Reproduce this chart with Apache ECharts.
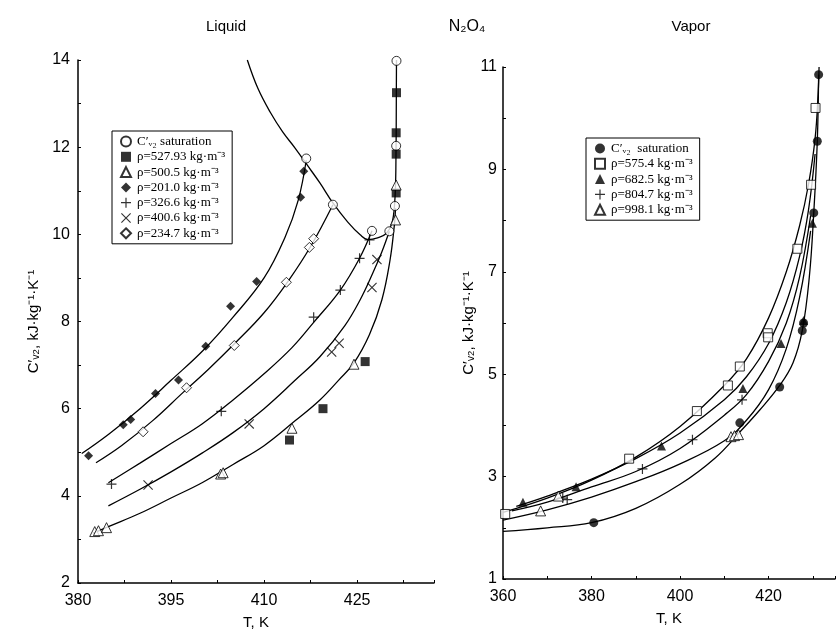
<!DOCTYPE html>
<html>
<head>
<meta charset="utf-8">
<script src="https://cdn.jsdelivr.net/npm/echarts@6/dist/echarts.min.js"></script>
<style>
  html, body { margin: 0; padding: 0; background: #fff; }
  #chart { width: 838px; height: 639px; }
</style>
</head>
<body>
<div id="chart"></div>
<script>
// ---- Liquid side: measured points [T (K), C'v2 (kJ/kg/K)] ----
const liqSatPts  = [[416.8, 11.74], [421.1, 10.68], [427.4, 10.08], [430.2, 10.07], [431.1, 10.65], [431.3, 12.03], [431.35, 13.98]];
const liq52793   = [[414.1, 5.28], [419.5, 6.0], [426.3, 7.08], [431.3, 10.95], [431.3, 11.84], [431.3, 12.33], [431.35, 13.25]];
const liq5005    = [[382.7, 3.18], [383.3, 3.2], [384.6, 3.27], [403.0, 4.5], [403.4, 4.53], [414.5, 5.55], [424.5, 7.02], [431.2, 10.33], [431.3, 11.13]];
const liq2010    = [[381.7, 4.92], [387.3, 5.63], [388.5, 5.75], [392.5, 6.35], [396.2, 6.66], [400.6, 7.43], [404.6, 8.35], [408.8, 8.92], [415.9, 10.85], [416.4, 11.45]];
const liq3266    = [[385.4, 4.27], [403.1, 5.94], [418.0, 8.1], [422.3, 8.72], [425.4, 9.45], [427.0, 9.87]];
const liq4006    = [[391.3, 4.25], [407.6, 5.65], [420.9, 7.3], [422.1, 7.5], [427.4, 8.78], [428.2, 9.42]];
const liq2347    = [[390.5, 5.47], [397.5, 6.48], [405.2, 7.45], [413.6, 8.9], [417.3, 9.7], [418.0, 9.9]];

// ---- Liquid side: smoothed fit curves ----
const liqSatCurve  = [[407.3, 14.0], [409, 13.35], [411, 12.8], [413, 12.35], [415, 11.98], [416.8, 11.62], [419, 11.18], [421.1, 10.72], [423.5, 10.28], [425.5, 9.99], [426.8, 9.88], [428.3, 9.92], [429.7, 10.02], [430.6, 10.25], [431.05, 10.7], [431.25, 11.5], [431.35, 14.0]];
const liq2010Curve = [[380.6, 4.97], [385, 5.42], [390, 6.0], [395, 6.65], [400.2, 7.34], [405, 8.1], [410, 9.0], [413.4, 9.94], [415.5, 10.78], [416.8, 11.7]];
const liq2347Curve = [[382.9, 4.76], [387, 5.15], [392, 5.72], [397, 6.38], [401, 6.9], [405.3, 7.5], [410, 8.2], [414, 8.95], [417.5, 9.72], [421.1, 10.68]];
const liq3266Curve = [[384.9, 4.3], [390, 4.75], [395, 5.2], [400, 5.65], [405, 6.2], [410, 6.8], [414.5, 7.4], [418, 7.98], [422.3, 8.72], [425.4, 9.45], [427.4, 10.08]];
const liq4006Curve = [[384.9, 3.77], [390, 4.15], [395, 4.55], [400, 4.98], [405, 5.45], [410, 6.0], [415, 6.65], [419, 7.19], [423, 7.9], [425.5, 8.5], [427.5, 9.1], [429, 9.6], [430.2, 10.07]];
const liq5005Curve = [[382.4, 3.14], [385, 3.3], [390, 3.6], [395, 3.95], [400, 4.3], [405, 4.72], [410, 5.15], [415, 5.72], [419, 6.2], [422, 6.65], [424.5, 7.05], [427, 7.7], [429, 8.5], [430.3, 9.4], [431.0, 10.2], [431.2, 10.6]];

// ---- Vapor side: measured points ----
const vapSatPts = [[380.5, 2.1], [413.5, 4.05], [422.5, 4.75], [427.6, 5.85], [427.9, 6.0], [430.2, 8.15], [431.0, 9.55], [431.3, 10.85]];
const vap5754   = [[360.5, 2.27], [388.5, 3.35], [403.8, 4.28], [410.8, 4.78], [413.5, 5.15], [419.8, 5.8], [419.9, 5.72], [426.5, 7.45], [429.6, 8.7], [430.6, 10.2]];
const vap6825   = [[364.5, 2.5], [376.5, 2.8], [395.8, 3.6], [414.2, 4.72], [422.8, 5.6], [427.9, 6.05], [429.9, 7.95]];
const vap8047   = [[373.5, 2.58], [374.5, 2.55], [391.5, 3.15], [402.8, 3.72], [414.0, 4.5]];
const vap9981   = [[368.5, 2.33], [372.5, 2.62], [411.5, 3.78], [412.3, 3.8], [413.2, 3.82]];

// ---- Vapor side: smoothed fit curves ----
const vapSatCurve  = [[360, 1.93], [370, 2.0], [380, 2.1], [390, 2.38], [400, 2.85], [408, 3.37], [413.5, 3.87], [418, 4.3], [422.5, 4.78], [425.5, 5.22], [427.6, 5.85], [429.2, 6.9], [430.2, 8.15], [431, 9.55], [431.3, 10.85]];
const vap5754Curve = [[360, 2.3], [370, 2.58], [380, 2.93], [390, 3.38], [400, 3.98], [410, 4.78], [415, 5.3], [420, 6.1], [424, 7.0], [427, 7.9], [429, 8.7], [430.5, 9.6], [431.2, 10.5], [431.4, 11.0]];
const vap6825Curve = [[363, 2.42], [370, 2.62], [380, 2.95], [390, 3.35], [400, 3.85], [410, 4.5], [415, 4.95], [420, 5.6], [424, 6.4], [427, 7.3], [429, 8.2], [430.5, 9.3]];
const vap8047Curve = [[362, 2.33], [370, 2.5], [380, 2.8], [390, 3.1], [400, 3.55], [410, 4.2], [415, 4.6], [420, 5.25], [424, 6.0], [427, 6.9], [429.5, 8.1]];
const vap9981Curve = [[360, 2.15], [370, 2.35], [380, 2.6], [390, 2.9], [400, 3.25], [410, 3.7], [415, 4.1], [420, 4.7], [424, 5.5], [427, 6.5], [429.5, 7.8]];

// legend names
const liqNames = ['C′ᵥ₂ saturation', 'ρ=527.93 kg·m⁻³', 'ρ=500.5 kg·m⁻³', 'ρ=201.0 kg·m⁻³', 'ρ=326.6 kg·m⁻³', 'ρ=400.6 kg·m⁻³', 'ρ=234.7 kg·m⁻³'];
const vapNames = ['C′ᵥ₂  saturation', 'ρ=575.4 kg·m⁻³', 'ρ=682.5 kg·m⁻³', 'ρ=804.7 kg·m⁻³', 'ρ=998.1 kg·m⁻³'];

const PLUS = 'path://M4.4,0H5.6V4.4H10V5.6H5.6V10H4.4V5.6H0V4.4H4.4Z';
const CROSS = 'path://M0,0.8L0.8,0L5,4.2L9.2,0L10,0.8L5.8,5L10,9.2L9.2,10L5,5.8L0.8,10L0,9.2L4.2,5Z';
const open = { color: '#fff', borderColor: '#000', borderWidth: 1 };
const solid = { color: '#000', borderColor: '#000', borderWidth: 0 };

function pts(name, data, idx, symbol, size, style) {
  return { name, type: 'scatter', xAxisIndex: idx, yAxisIndex: idx, data, symbol, symbolSize: size, itemStyle: style, z: 5 };
}
function curve(data, idx) {
  return { type: 'line', xAxisIndex: idx, yAxisIndex: idx, data, smooth: 0.4, showSymbol: false, symbol: 'none',
           lineStyle: { color: '#000', width: 1.3 }, silent: true, z: 3 };
}

const sansFont = 'Liberation Sans';
const axisCommon = {
  axisLine: { show: true, lineStyle: { color: '#000', width: 1.5 } },
  axisTick: { show: true, inside: true, length: 3, lineStyle: { color: '#000' } },
  splitLine: { show: false },
  axisLabel: { color: '#000', fontSize: 16, fontFamily: sansFont },
  nameTextStyle: { color: '#000', fontSize: 15, fontFamily: sansFont }
};
const legendCommon = {
  orient: 'vertical', backgroundColor: '#fff', borderColor: '#000', borderWidth: 1,
  itemWidth: 10, itemHeight: 10, itemGap: 2.3, padding: [4, 7, 4, 8],
  textStyle: { fontFamily: 'Liberation Serif', fontSize: 13, color: '#000', padding: [0, 0, 0, 1] }
};
const titleStyle = { fontFamily: sansFont, fontSize: 15, fontWeight: 'normal', color: '#000' };

const option = {
  animation: false,
  backgroundColor: '#fff',
  title: [
    { text: 'Liquid', left: 221, top: 14, textAlign: 'center', textStyle: titleStyle },
    { text: 'N₂O₄', left: 462, top: 14, textAlign: 'center', textStyle: Object.assign({}, titleStyle, { fontSize: 16 }) },
    { text: 'Vapor', left: 686, top: 14, textAlign: 'center', textStyle: titleStyle }
  ],
  legend: [
    Object.assign({ left: 112, top: 131, data: liqNames }, legendCommon),
    Object.assign({ left: 586, top: 138, data: vapNames }, legendCommon)
  ],
  grid: [
    { left: 78, top: 60, width: 356, height: 523 },
    { left: 503, top: 67, width: 335, height: 512 }
  ],
  xAxis: [
    Object.assign({}, axisCommon, {
      gridIndex: 0, type: 'value', min: 380, max: 437.4, interval: 7.5,
      name: 'T, K', nameLocation: 'middle', nameGap: 32,
      axisLabel: Object.assign({}, axisCommon.axisLabel, { margin: 10, formatter: v => ((v - 380) % 15 === 0 ? String(v) : '') })
    }),
    Object.assign({}, axisCommon, {
      gridIndex: 1, type: 'value', min: 360, max: 435, interval: 10,
      name: 'T, K', nameLocation: 'middle', nameGap: 32,
      axisLabel: Object.assign({}, axisCommon.axisLabel, { margin: 10, formatter: v => ((v - 360) % 20 === 0 ? String(v) : '') })
    })
  ],
  yAxis: [
    Object.assign({}, axisCommon, {
      gridIndex: 0, type: 'value', min: 2, max: 14, interval: 1,
      name: 'C′ᵥ₂, kJ·kg⁻¹·K⁻¹', nameLocation: 'middle', nameGap: 37,
      axisLabel: Object.assign({}, axisCommon.axisLabel, { margin: 8, formatter: v => (v % 2 === 0 ? String(v) : '') })
    }),
    Object.assign({}, axisCommon, {
      gridIndex: 1, type: 'value', min: 1, max: 11, interval: 1,
      name: 'C′ᵥ₂, kJ·kg⁻¹·K⁻¹', nameLocation: 'middle', nameGap: 20,
      axisLabel: Object.assign({}, axisCommon.axisLabel, { margin: 6, formatter: v => (v % 2 === 1 ? String(v) : '') })
    })
  ],
  series: [
    curve(liqSatCurve, 0), curve(liq2010Curve, 0), curve(liq2347Curve, 0),
    curve(liq3266Curve, 0), curve(liq4006Curve, 0), curve(liq5005Curve, 0),
    pts(liqNames[0], liqSatPts, 0, 'circle', 9, open),
    pts(liqNames[1], liq52793, 0, 'rect', 9, solid),
    pts(liqNames[2], liq5005, 0, 'triangle', 10, open),
    pts(liqNames[3], liq2010, 0, 'diamond', 9, solid),
    pts(liqNames[4], liq3266, 0, PLUS, 10, solid),
    pts(liqNames[5], liq4006, 0, CROSS, 10, solid),
    pts(liqNames[6], liq2347, 0, 'diamond', 10, open),

    curve(vapSatCurve, 1), curve(vap5754Curve, 1), curve(vap6825Curve, 1),
    curve(vap8047Curve, 1), curve(vap9981Curve, 1),
    pts(vapNames[0], vapSatPts, 1, 'circle', 9, solid),
    pts(vapNames[1], vap5754, 1, 'rect', 9, open),
    pts(vapNames[2], vap6825, 1, 'triangle', 9, solid),
    pts(vapNames[3], vap8047, 1, PLUS, 10, solid),
    pts(vapNames[4], vap9981, 1, 'triangle', 10, open)
  ]
};

const chart = echarts.init(document.getElementById('chart'), null, { renderer: 'canvas' });
chart.setOption(option);
</script>
</body>
</html>
